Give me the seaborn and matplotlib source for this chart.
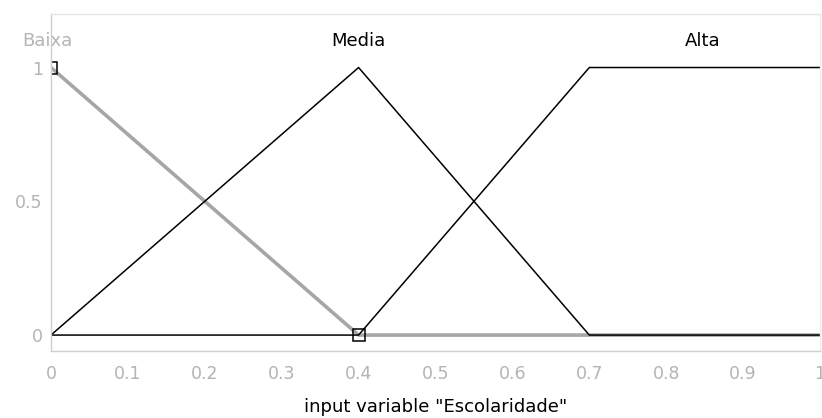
import matplotlib
matplotlib.use("Agg")
import matplotlib.pyplot as plt
import numpy as np
import pandas as pd
import seaborn as sns

sns.set_style("white")
plt.rcParams["font.family"] = ["DejaVu Sans"]

# Membership functions of the input variable "Escolaridade"
mf_names = ["Baixa", "Media", "Alta"]
baixa_x = [0.0, 0.4, 1.0]
baixa_y = [1.0, 0.0, 0.0]
media_x = [0.0, 0.4, 0.7, 1.0]
media_y = [0.0, 1.0, 0.0, 0.0]
alta_x = [0.0, 0.4, 0.7, 1.0]
alta_y = [0.0, 0.0, 1.0, 1.0]
label_x = [-0.005, 0.4, 0.848]
x_ticks = [0.0, 0.1, 0.2, 0.3, 0.4, 0.5, 0.6, 0.7, 0.8, 0.9, 1.0]
x_tick_labels = ["0", "0.1", "0.2", "0.3", "0.4", "0.5", "0.6", "0.7", "0.8", "0.9", "1"]
y_ticks = [0.0, 0.5, 1.0]
y_tick_labels = ["0", "0.5", "1"]

df = pd.concat([
    pd.DataFrame({"x": baixa_x, "mu": baixa_y, "mf": "Baixa"}),
    pd.DataFrame({"x": media_x, "mu": media_y, "mf": "Media"}),
    pd.DataFrame({"x": alta_x, "mu": alta_y, "mf": "Alta"}),
])

fig = plt.figure(figsize=(8.22, 4.18), dpi=100)
ax = fig.add_axes([0.062, 0.160, 0.9356, 0.8065])

# selected curve (Baixa) in thick grey, drawn underneath the others
sns.lineplot(data=df[df.mf == "Baixa"], x="x", y="mu", estimator=None,
             color="#a6a6a6", lw=2.6, sort=False, ax=ax)
sns.lineplot(data=df[df.mf != "Baixa"], x="x", y="mu", units="mf", estimator=None,
             color="black", lw=1.1, sort=False, ax=ax)

# edit handles on the selected curve
ax.plot([baixa_x[0], baixa_x[1]], [baixa_y[0], baixa_y[1]], ls="none", marker="s",
        ms=8.5, mfc="none", mec="black", mew=1.1, clip_on=True)

ax.set_xlim(0, 1)
ax.set_ylim(-0.06, 1.2)
ax.set_xticks(x_ticks)
ax.set_xticklabels(x_tick_labels)
ax.set_yticks(y_ticks)
ax.set_yticklabels(y_tick_labels)
ax.tick_params(axis="both", direction="in", length=4, colors="#c8c8c8",
               labelcolor="#b4b4b4", labelsize=12.5)
ax.tick_params(axis="x", pad=10)
ax.tick_params(axis="y", pad=6)
for side, s in ax.spines.items():
    s.set_color("#cfcfcf")
    s.set_linewidth(1.0)
ax.spines["top"].set_color("#e6e6e6")
ax.spines["right"].set_color("#ececec")

ax.set_xlabel('input variable "Escolaridade"', fontsize=13, color="black", labelpad=11)
ax.set_ylabel("")

for name, xp in zip(mf_names, label_x):
    col = "#b4b4b4" if name == "Baixa" else "black"
    ax.text(xp, 1.1, name, ha="center", va="center", fontsize=13, color=col, clip_on=False)

fig.savefig("out.png", dpi=100)
